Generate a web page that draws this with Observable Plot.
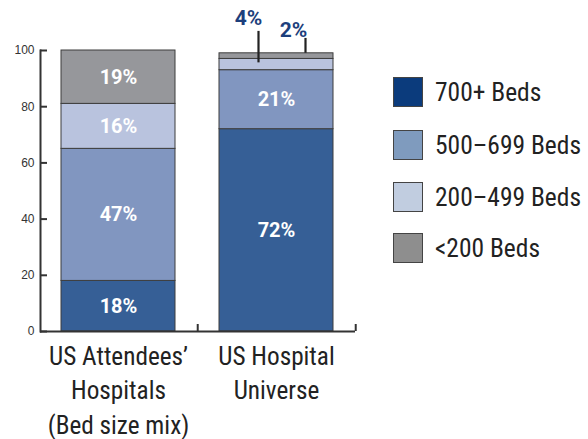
<!DOCTYPE html>
<html>
<head>
<meta charset="utf-8">
<script src="https://cdn.jsdelivr.net/npm/d3@7"></script>
<script src="https://cdn.jsdelivr.net/npm/@observablehq/plot@0.6"></script>
<style>
  html, body { margin: 0; padding: 0; background: #fff; }
  #wrap { position: relative; width: 588px; height: 439px; overflow: hidden; }
  #legend { position: absolute; left: 393px; top: 0; color: #222; }
  .item { position: absolute; left: 0; height: 30px; display: flex; align-items: center; white-space: nowrap; }
  .sw { width: 28px; height: 28px; border: 1px solid #444; box-sizing: content-box; margin-right: 12px; flex: none; }
  .lt { display: inline-block; transform-origin: left center; }
</style>
</head>
<body>
<div id="wrap"><div id="legend"></div></div>
<script>
// ---- data ----
const categories = ["US Attendees’\nHospitals\n(Bed size mix)", "US Hospital\nUniverse"];
const series = ["700+ Beds", "500–699 Beds", "200–499 Beds", "<200 Beds"];
const attendeesValues = [18, 47, 16, 19];
const universeValues = [72, 21, 4, 2];
const yTicks = [0, 20, 40, 60, 80, 100];

const barColors = ["#365f96", "#8196c0", "#b9c3de", "#96979b"];
const legendColors = ["#0b3b7c", "#7f9bbe", "#c1cde0", "#8e8e8e"];

const rows = [];
[attendeesValues, universeValues].forEach((vals, ci) => {
  vals.forEach((v, si) => rows.push({cat: categories[ci], series: series[si], value: v}));
});

// ---- font choice: a condensed face if present, else compress horizontally ----
const cnv = document.createElement("canvas").getContext("2d");
function w(font, s) { cnv.font = font; return cnv.measureText(s).width; }
function has(f) {
  const s = "mmmmmmwwwwwlli1000";
  return w(`40px "${f}", monospace`, s) !== w("40px monospace", s) ||
         w(`40px "${f}", serif`, s) !== w("40px serif", s);
}
const family = ["Liberation Sans Narrow", "Roboto Condensed", "DejaVu Sans Condensed", "Roboto", "Liberation Sans"].find(has) || "sans-serif";
const FS = 26;
const sx = Math.max(0.7, Math.min(1.1, 139 / w(`${FS}px "${family}"`, "US Attendees’")));
const sLeg = Math.max(0.7, Math.min(1.1, 146 / w(`${FS}px "${family}"`, "500–699 Beds")));

// small segments labelled outside with leader lines
let cum = 0;
const small = [];
universeValues.forEach((v) => {
  const lo = cum; cum += v;
  if (v < 10) small.push({cat: categories[1], label: v + "%", lo, hi: cum});
});
const ann = small.map((d, i) => i === 0
  ? {...d, y1: (d.lo + d.hi) / 2 + 0.6, y2: 106.8, ty: 111.4, ldx: -18, tdx: -28}
  : {...d, y1: d.hi, y2: 104.3, ty: 107.1, ldx: 29, tdx: 17});

const width = 588, height = 439;
const mL = 40, mR = 233, mT = 50, mB = 108;
const pIn = 0.278, pOut = 0.133;
const W = width - mL - mR;
const step = W / (categories.length - pIn + 2 * pOut);

const chart = Plot.plot({
  width, height,
  marginLeft: mL, marginRight: mR, marginTop: mT, marginBottom: mB,
  style: {fontFamily: `"${family}", sans-serif`, color: "#222", background: "#fff"},
  x: {domain: categories, paddingInner: pIn, paddingOuter: pOut},
  y: {domain: [0, 100]},
  color: {domain: series, range: barColors},
  marks: [
    Plot.barY(rows, {x: "cat", y: "value", fill: "series", stroke: "#3d3d3d", strokeWidth: 1}),
    Plot.text(rows, Plot.stackY({x: "cat", y: "value", z: "series",
      text: d => d.value >= 10 ? d.value + "%" : "",
      fill: "white", fontWeight: "bold", fontSize: 20, fontFamily: "Roboto, sans-serif"})),
    ...ann.map(a => Plot.ruleX([a], {x: "cat", y1: "y1", y2: "y2", dx: a.ldx, stroke: "#222", strokeWidth: 2.2})),
    ...ann.map(a => Plot.text([a], {x: "cat", y: "ty", text: "label", dx: a.tdx, fill: "#1d3f7c",
      fontWeight: "bold", fontSize: 21, fontFamily: "Roboto, sans-serif"})),
    Plot.axisY(yTicks, {tickSize: 0, tickPadding: 6, fontFamily: "Liberation Sans, Arial, sans-serif", fontSize: 12, color: "#333"}),
    Plot.ruleY(yTicks, {y: d => d, insetRight: W - 7, stroke: "#333", strokeWidth: 2}),
    Plot.axisX({tickSize: 0, tickPadding: 9, fontSize: FS, lineHeight: 1.32, label: null, color: "#222"}),
    Plot.frame({anchor: "left", stroke: "#333", strokeWidth: 2}),
    Plot.ruleY([0], {stroke: "#333", strokeWidth: 2}),
    Plot.ruleX(categories, {x: d => d, y1: 0, y2: 2.5, dx: step / 2, stroke: "#333", strokeWidth: 2})
  ]
});
document.getElementById("wrap").prepend(chart);

// horizontal compression of the x labels to mimic the condensed face
chart.querySelectorAll("g[aria-label='x-axis tick label'] text").forEach(t => {
  t.setAttribute("transform", (t.getAttribute("transform") || "") + ` scale(${sx},1)`);
});

// legend
const leg = document.getElementById("legend");
leg.style.fontFamily = `"${family}", sans-serif`;
leg.style.fontSize = FS + "px";
const centers = [92, 145, 197, 248];
series.forEach((s, i) => {
  const it = document.createElement("div");
  it.className = "item";
  it.style.top = (centers[i] - 15) + "px";
  const sw = document.createElement("div");
  sw.className = "sw";
  sw.style.background = legendColors[i];
  const tx = document.createElement("span");
  tx.className = "lt";
  tx.textContent = s;
  tx.style.transform = `scaleX(${sLeg})`;
  it.append(sw, tx);
  leg.append(it);
});
</script>
</body>
</html>
